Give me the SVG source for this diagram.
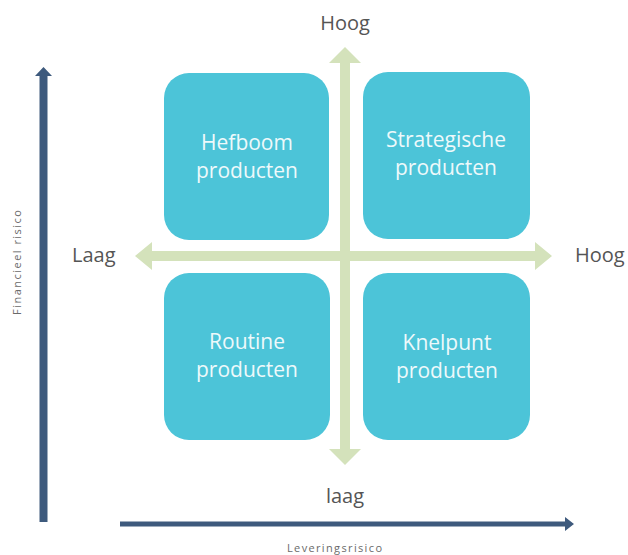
<svg xmlns="http://www.w3.org/2000/svg" width="628" height="555" viewBox="0 0 628 555">
  <style>
    .box { fill: #4cc4d8; }
    .box-label { font-family: "Open Sans", "Noto Sans", sans-serif; font-size: 21px; fill: #eef9fb; text-anchor: middle; }
    .level { font-family: "Open Sans", "Noto Sans", sans-serif; font-size: 20px; fill: #555555; }
    .axis-title { font-family: "Open Sans", "Noto Sans", sans-serif; font-size: 11px; fill: #6a6a6a; }
    .cross { fill: #d4e2bb; }
    .axis { fill: #3e5a7d; }
  </style>
  <rect width="628" height="555" fill="#ffffff"/>

  <!-- quadrant cross and outer axes -->
  <g id="connectors">
    <!-- vertical cross arrow, both ends -->
    <polygon class="cross" points="345,47 361,63 350,63 350,449 361,449 345,465 329,449 340,449 340,63 329,63"/>
    <!-- horizontal cross arrow, both ends -->
    <polygon class="cross" points="135,256 152,242 152,251 535,251 535,242 552,256 535,270 535,261 152,261 152,270"/>
    <!-- financial risk axis -->
    <polygon class="axis" points="43.5,67 52,76 47.5,76 47.5,522 39.5,522 39.5,76 35,76"/>
    <!-- supply risk axis -->
    <polygon class="axis" points="574,524 565,531 565,526.5 120,526.5 120,521.5 565,521.5 565,517"/>
  </g>

  <g id="hefboom">
    <rect class="box" x="164" y="73" width="165" height="167" rx="25"/>
    <text class="box-label" x="247" y="150">Hefboom</text>
    <text class="box-label" x="247" y="178">producten</text>
  </g>

  <g id="strategisch">
    <rect class="box" x="363" y="72" width="167" height="167" rx="25"/>
    <text class="box-label" x="446" y="147">Strategische</text>
    <text class="box-label" x="446" y="175">producten</text>
  </g>

  <g id="routine">
    <rect class="box" x="164" y="273" width="166" height="167" rx="25"/>
    <text class="box-label" x="247" y="349">Routine</text>
    <text class="box-label" x="247" y="377">producten</text>
  </g>

  <g id="knelpunt">
    <rect class="box" x="363" y="273" width="167" height="167" rx="25"/>
    <text class="box-label" x="447" y="350">Knelpunt</text>
    <text class="box-label" x="447" y="378">producten</text>
  </g>

  <!-- level labels -->
  <g id="levels">
    <text class="level" x="345" y="30" text-anchor="middle">Hoog</text>
    <text class="level" x="345" y="503" text-anchor="middle">laag</text>
    <text class="level" x="72" y="262">Laag</text>
    <text class="level" x="575" y="262">Hoog</text>
  </g>

  <!-- axis titles -->
  <g id="axis-titles">
    <text class="axis-title" x="287" y="552" textLength="95" lengthAdjust="spacing">Leveringsrisico</text>
    <text class="axis-title" transform="translate(21,315) rotate(-90)" x="0" y="0" textLength="105" lengthAdjust="spacing">Financieel risico</text>
  </g>
</svg>
